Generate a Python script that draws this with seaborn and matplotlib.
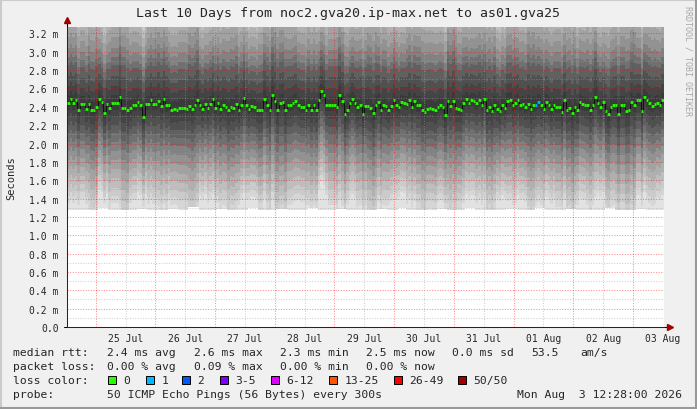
import numpy as np
import pandas as pd
import matplotlib
matplotlib.use('Agg')
import matplotlib.pyplot as plt
import matplotlib.dates as mdates
from matplotlib.patches import Rectangle
from matplotlib.lines import Line2D
import seaborn as sns

# 데이터
start = pd.Timestamp('2026-07-24 12:28')
end = pd.Timestamp('2026-08-03 12:28')

median_ms = [
    2.44, 2.48, 2.44, 2.47, 2.36, 2.43, 2.43, 2.38, 2.43, 2.37, 2.36, 2.40, 2.49, 2.45, 2.33,
    2.43, 2.39, 2.44, 2.44, 2.44, 2.51, 2.39, 2.39, 2.36, 2.39, 2.42, 2.42, 2.45, 2.42, 2.29,
    2.43, 2.43, 2.47, 2.43, 2.43, 2.46, 2.41, 2.48, 2.42, 2.42, 2.37, 2.38, 2.37, 2.39, 2.39,
    2.39, 2.38, 2.41, 2.38, 2.42, 2.47, 2.42, 2.38, 2.43, 2.39, 2.43, 2.48, 2.39,
    2.44, 2.38, 2.42, 2.40, 2.36, 2.40, 2.39, 2.43, 2.37, 2.42, 2.50, 2.42, 2.38, 2.41, 2.40,
    2.37, 2.36, 2.37, 2.49, 2.42, 2.36, 2.53, 2.46, 2.37, 2.44, 2.45, 2.37, 2.42, 2.42, 2.44,
    2.46, 2.42, 2.40, 2.40, 2.37, 2.42, 2.37, 2.42, 2.37, 2.47, 2.57, 2.53, 2.42, 2.42, 2.42,
    2.42, 2.40, 2.53, 2.46, 2.32, 2.37, 2.44, 2.48, 2.44, 2.40, 2.42, 2.32, 2.41,
    2.41, 2.39, 2.33, 2.42, 2.45, 2.36, 2.42, 2.41, 2.37, 2.41, 2.47, 2.42, 2.40, 2.45, 2.44,
    2.43, 2.47, 2.40, 2.46, 2.42, 2.42, 2.36, 2.34, 2.38, 2.39, 2.38, 2.36, 2.40, 2.42, 2.40,
    2.31, 2.46, 2.41, 2.46, 2.39, 2.38, 2.37, 2.44, 2.48, 2.44, 2.47, 2.46, 2.44, 2.47, 2.42,
    2.48, 2.36, 2.40, 2.35, 2.42, 2.38, 2.35, 2.42, 2.39, 2.46, 2.47, 2.42, 2.44,
    2.47, 2.42, 2.43, 2.40, 2.43, 2.38, 2.42, 2.42, 2.45, 2.42, 2.38, 2.45, 2.42, 2.38, 2.42,
    2.40, 2.40, 2.34, 2.47, 2.37, 2.39, 2.33, 2.40, 2.36, 2.45, 2.43, 2.42, 2.42, 2.37, 2.42,
    2.51, 2.44, 2.40, 2.45, 2.35, 2.32, 2.40, 2.42, 2.42, 2.32, 2.42, 2.42, 2.35, 2.36, 2.45,
    2.42, 2.47, 2.47, 2.35, 2.51, 2.47, 2.44, 2.41, 2.43, 2.44, 2.42, 2.47,
]
loss_steps = [181, 182]   # 1 패킷 손실
loss_values = [1, 1]

# 스모크 (블록 단위 하한 / 퍼짐 정도)
smoke_floor = [
    1.27, 1.28, 1.27, 1.30, 1.28, 1.27, 1.28, 1.29, 1.28, 1.27,
    1.29, 1.28, 1.31, 1.28, 1.27, 1.29, 1.28, 1.28, 1.30, 1.27,
    1.28, 1.29, 1.27, 1.28, 1.30, 1.28, 1.27, 1.29, 1.28, 1.28,
    1.27, 1.29, 1.28, 1.30, 1.27, 1.28, 1.28, 1.29, 1.27, 1.28,
    1.30, 1.28, 1.27, 1.28, 1.29, 1.28, 1.27, 1.30, 1.28, 1.28,
    1.29, 1.27, 1.28, 1.28, 1.30, 1.27, 1.28, 1.29, 1.28, 1.27,
]
smoke_spread = [
    1.00, 0.95, 1.05, 0.90, 1.00, 1.10, 0.95, 0.90, 1.00, 1.05,
    0.95, 1.00, 1.10, 0.90, 0.95, 1.00, 1.05, 0.95, 0.90, 1.00,
    1.05, 1.10, 1.00, 0.95, 1.00, 0.90, 1.00, 1.05, 0.95, 1.00,
    1.10, 1.00, 0.95, 0.90, 1.00, 1.05, 1.00, 0.95, 1.10, 1.00,
    0.95, 1.00, 1.05, 0.90, 1.00, 0.95, 1.10, 1.00, 0.95, 1.00,
    1.05, 0.95, 1.00, 0.90, 1.00, 1.05, 1.10, 0.95, 1.00, 0.95,
]
band_grays = ['#e2e2e2', '#d6d6d6', '#cbcbcb', '#bebebe', '#b0b0b0', '#a2a2a2', '#929292',
              '#828282', '#707070', '#606060', '#505050', '#444444', '#3a3a3a']
lower_ms = [9.9, 1.09, 1.01, 0.92, 0.82, 0.72, 0.62, 0.52, 0.42, 0.33, 0.24, 0.15, 0.07]
upper_ms = [1.60, 1.35, 1.20, 1.05, 0.95, 0.85, 0.72, 0.60, 0.50, 0.42, 0.30, 0.19, 0.09]

loss_labels = ['0', '1', '2', '3-5', '6-12', '13-25', '26-49', '50/50']
loss_colors = ['#26ff00', '#00b8ff', '#0059ff', '#7e00ff', '#dd00ff', '#ff5500', '#ff0000', '#a10000']

W, H = 697, 410

sns.set_style('white')
plt.rcParams['font.family'] = ['DejaVu Sans Mono']

fig = plt.figure(figsize=(W / 100, H / 100), dpi=100, facecolor='#f0f0f0')
ax = fig.add_axes([67 / W, 82 / H, 597 / W, 300 / H])
ax.set_facecolor('white')

n = len(median_ms)
edges = mdates.date2num(pd.date_range(start, end, periods=n + 1))
med = np.array(median_ms)
blk = (np.arange(n) * len(smoke_spread)) // n
spread = np.array(smoke_spread)[blk]
floor = np.array(smoke_floor)[blk]

# 스모크 그리기 (바깥쪽 밝게 -> 안쪽 어둡게)
for k in range(len(band_grays)):
    lo = np.maximum(floor, med - lower_ms[k] * spread)
    hi = med + upper_ms[k] * spread
    ax.fill_between(edges, np.append(lo, lo[-1]), np.append(hi, hi[-1]),
                    step='post', color=band_grays[k], lw=0, zorder=1)

# 격자
days = pd.date_range('2026-07-25', '2026-08-03', freq='D')
noons = days + pd.Timedelta(hours=12)
dot = (0, (1, 1.5))
for v in np.arange(0.1, 3.3, 0.1):
    major = abs(v / 0.2 - round(v / 0.2)) < 1e-6
    ax.axhline(v, color='#ff0000' if major else '#a0a0a0',
               alpha=0.45 if major else 0.5, lw=0.75, ls=dot, zorder=2)
for d in mdates.date2num(days):
    ax.axvline(d, color='#ff0000', alpha=0.45, lw=0.75, ls=dot, zorder=2)
for d in mdates.date2num(noons[:-1]):
    ax.axvline(d, color='#a0a0a0', alpha=0.5, lw=0.75, ls=dot, zorder=2)

# 중앙값
sns.lineplot(x=edges[:-1], y=med, drawstyle='steps-post', color='#111111',
             lw=0.7, ax=ax, estimator=None, zorder=3)
seg_colors = [loss_colors[0]] * n
for s, lv in zip(loss_steps, loss_values):
    seg_colors[s] = loss_colors[lv]
ax.hlines(med, edges[:-1], edges[1:], colors=seg_colors, lw=2.0, zorder=4, capstyle='butt')

ax.set_xlim(edges[0], edges[-1])
ax.set_ylim(0, 3.27)

# 축 눈금
ax.set_xticks(mdates.date2num(noons))
ax.set_xticklabels([d.strftime('%d %b') for d in noons], fontsize=7)
ax.set_xticks(mdates.date2num(days), minor=True)
ax.tick_params(axis='x', which='major', length=0, pad=4.5)
ax.tick_params(axis='x', which='minor', length=2.5, width=0.7, direction='out', color='#606060')
yt = np.round(np.arange(0, 3.21, 0.2), 1)
ax.set_yticks(yt)
ax.set_yticklabels(['0.0'] + [f'{v:.1f} m' for v in yt[1:]], fontsize=7)
ax.set_yticks(np.arange(0.1, 3.3, 0.2), minor=True)
ax.tick_params(axis='y', which='major', length=3, width=0.7, direction='out', pad=3, color='#404040')
ax.tick_params(axis='y', which='minor', length=2, width=0.7, direction='out', color='#808080')
ax.set_ylabel('Seconds', fontsize=7.5)
ax.yaxis.set_label_coords(-51 / 597, 0.5)

for sp in ['top', 'right']:
    ax.spines[sp].set_visible(False)
ax.spines['left'].set_linewidth(0.75)
ax.spines['bottom'].set_linewidth(0.75)
ax.plot([0, 0], [1, 1 + 5 / 300], transform=ax.transAxes, color='black', lw=0.75, clip_on=False)
ax.plot([-3 / 597, 0], [0, 0], transform=ax.transAxes, color='black', lw=0.75, clip_on=False)
ax.plot([1, 1 + 4 / 597], [0, 0], transform=ax.transAxes, color='black', lw=0.75, clip_on=False)
ax.plot([0], [1 + 7 / 300], marker='^', ms=4, color='#a00000', transform=ax.transAxes, clip_on=False)
ax.plot([1 + 6 / 597], [0], marker='>', ms=4, color='#a00000', transform=ax.transAxes, clip_on=False)


def fx(x):
    return x / W


def fy(y):
    return 1 - y / H


fig.text(fx(348), fy(13), 'Last 10 Days from noc2.gva20.ip-max.net to as01.gva25',
         ha='center', va='center', fontsize=9.5)
fig.text(fx(688), fy(6), 'RRDTOOL / TOBI OETIKER', rotation=270, ha='center', va='top',
         fontsize=6, color='#a8a8a8')

# 범례 / 통계
leg_fs = 8.2
rows = [
    (353, [(13, 'median rtt:'), (107, '2.4 ms avg'), (194, '2.6 ms max'), (280, '2.3 ms min'),
           (366, '2.5 ms now'), (452, '0.0 ms sd'), (531, '53.5'), (580, 'am/s')]),
    (367, [(13, 'packet loss:'), (107, '0.00 % avg'), (194, '0.09 % max'), (280, '0.00 % min'),
           (366, '0.00 % now')]),
    (381, [(13, 'loss color:')]),
    (395, [(13, 'probe:'), (107, '50 ICMP Echo Pings (56 Bytes) every 300s')]),
]
for y, items in rows:
    for x, t in items:
        fig.text(fx(x), fy(y), t, ha='left', va='center', fontsize=leg_fs)
fig.text(fx(682), fy(395), 'Mon Aug  3 12:28:00 2026', ha='right', va='center', fontsize=leg_fs)

box_x = [108, 146, 182, 220, 271, 329, 394, 458]
for bx, lab, col in zip(box_x, loss_labels, loss_colors):
    fig.add_artist(Rectangle((fx(bx), fy(385)), 8 / W, 8 / H, transform=fig.transFigure,
                             facecolor=col, edgecolor='black', lw=0.7))
    fig.text(fx(bx + 15.5), fy(381), lab, ha='left', va='center', fontsize=leg_fs)

# 테두리
fig.add_artist(Line2D([0, 1], [1 - 1 / H, 1 - 1 / H], color='#cbcbcb', lw=1.5, transform=fig.transFigure))
fig.add_artist(Line2D([1 / W, 1 / W], [0, 1], color='#cbcbcb', lw=1.5, transform=fig.transFigure))
fig.add_artist(Line2D([0, 1], [1 / H, 1 / H], color='#999999', lw=1.5, transform=fig.transFigure))
fig.add_artist(Line2D([1 - 1 / W, 1 - 1 / W], [0, 1], color='#999999', lw=1.5, transform=fig.transFigure))

fig.savefig('out.png', dpi=100, facecolor=fig.get_facecolor())
